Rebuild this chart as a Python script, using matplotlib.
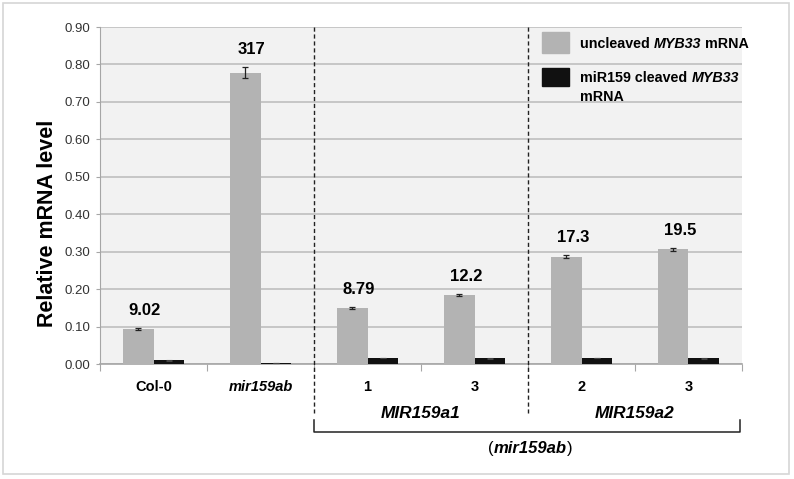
import matplotlib.pyplot as plt
from matplotlib.patches import Rectangle

plt.rcParams['font.family'] = ['Liberation Sans', 'DejaVu Sans']

# data
categories = ["Col-0", "mir159ab", "1", "3", "2", "3"]
cat_italic = [False, True, False, False, False, False]
uncleaved = [0.093, 0.778, 0.149, 0.185, 0.287, 0.306]
uncleaved_err = [0.003, 0.015, 0.003, 0.002, 0.005, 0.004]
cleaved = [0.010, 0.002, 0.016, 0.015, 0.016, 0.015]
cleaved_err = [0.001, 0.0005, 0.001, 0.001, 0.001, 0.001]
fold_labels = ["9.02", "317", "8.79", "12.2", "17.3", "19.5"]
groups = ["MIR159a1", "MIR159a2"]
yticks = [0.0, 0.1, 0.2, 0.3, 0.4, 0.5, 0.6, 0.7, 0.8, 0.9]

GREY = "#b3b3b3"
BLACK = "#111111"

fig = plt.figure(figsize=(7.94, 4.79), dpi=100)
fig.patches.append(Rectangle((0.004, 0.01), 0.99, 0.983, transform=fig.transFigure,
                             fill=False, edgecolor="#d6d6d6", lw=1.2))
ax = fig.add_axes([0.126, 0.240, 0.8085, 0.7036])
ax.set_facecolor("#f2f2f2")

x = list(range(len(categories)))
w = 0.286
ax.bar([i - w / 2 for i in x], uncleaved, w, color=GREY, zorder=3)
ax.bar([i + w / 2 for i in x], cleaved, w, color=BLACK, zorder=3)
ax.errorbar([i - w / 2 for i in x], uncleaved, yerr=uncleaved_err, fmt="none",
            ecolor="#222222", elinewidth=0.9, capsize=2.5, capthick=0.9, zorder=4)
ax.errorbar([i + w / 2 for i in x], cleaved, yerr=cleaved_err, fmt="none",
            ecolor="#444444", elinewidth=0.8, capsize=2, capthick=0.8, zorder=4)

for i, lab in enumerate(fold_labels):
    ax.annotate(lab, (i - 0.08, uncleaved[i] + uncleaved_err[i]), xytext=(0, 7),
                textcoords="offset points", ha="center", va="bottom",
                fontsize=12, fontweight="bold", zorder=5)

ax.set_xlim(-0.5, len(categories) - 0.5)
ax.set_ylim(0, 0.9)
ax.set_yticks(yticks)
ax.set_yticklabels([f"{v:.2f}" for v in yticks], fontsize=9.5, color="#333333")
ax.yaxis.grid(True, color="#bfbfbf", lw=1.2, zorder=0)
ax.set_axisbelow(True)
for s in ["top", "right"]:
    ax.spines[s].set_visible(False)
ax.spines["left"].set_color("#a6a6a6")
ax.spines["bottom"].set_color("#a6a6a6")
ax.spines["bottom"].set_linewidth(1.2)
ax.tick_params(axis="y", length=3, color="#a6a6a6", pad=4)

ax.set_xticks([i - 0.5 for i in range(len(categories) + 1)])
ax.set_xticklabels([])
ax.tick_params(axis="x", length=5, color="#a6a6a6")

xt = ax.get_xaxis_transform()
for i, (c, it) in enumerate(zip(categories, cat_italic)):
    ax.text(i, -0.067, c, ha="center", va="center", fontsize=10.5, fontweight="bold",
            style="italic" if it else "normal", transform=xt)

ax.set_ylabel("Relative mRNA level", fontsize=15.5, fontweight="bold")
ax.yaxis.set_label_coords(-0.065, 0.418)

# dashed separators
for xs in [1.5, 3.5]:
    ax.plot([xs, xs], [1.0, -0.146], transform=xt, color="#222222",
            lw=1.0, ls=(0, (3, 2)), clip_on=False, zorder=6)

for g, xc in zip(groups, [2.5, 4.5]):
    ax.text(xc, -0.146, g, ha="center", va="center", fontsize=12.4, fontweight="bold",
            style="italic", transform=xt)

# bracket
ax.plot([1.5, 1.5, 5.48, 5.48], [-0.166, -0.202, -0.202, -0.166],
        transform=xt, color="#222222", lw=1.1, clip_on=False)
t1 = ax.text(3.126, -0.252, "(", ha="left", va="center", fontsize=12, transform=xt)
t2 = ax.annotate("mir159ab", xy=(1, 0), xycoords=t1, ha="left", va="bottom",
                 fontsize=12, fontweight="bold", style="italic")
ax.annotate(")", xy=(1, 0), xycoords=t2, ha="left", va="bottom", fontsize=12)

# legend drawn by hand
tr = ax.transAxes
ax.add_patch(Rectangle((0.689, 0.923), 0.042, 0.062, transform=tr, color=GREY,
                       clip_on=False, zorder=6))
ax.add_patch(Rectangle((0.689, 0.825), 0.042, 0.053, transform=tr, color=BLACK,
                       clip_on=False, zorder=6))
lf = dict(fontsize=10.3, fontweight="bold")
a = ax.text(0.748, 0.950, "uncleaved ", transform=tr, va="center", **lf)
b = ax.annotate("MYB33", xy=(1, 0), xycoords=a, va="bottom", style="italic", **lf)
ax.annotate(" mRNA", xy=(1, 0), xycoords=b, va="bottom", **lf)
a = ax.text(0.748, 0.848, "miR159 cleaved ", transform=tr, va="center", **lf)
ax.annotate("MYB33", xy=(1, 0), xycoords=a, va="bottom", style="italic", **lf)
ax.text(0.748, 0.792, "mRNA", transform=tr, va="center", **lf)

fig.savefig("out.png", dpi=100)
